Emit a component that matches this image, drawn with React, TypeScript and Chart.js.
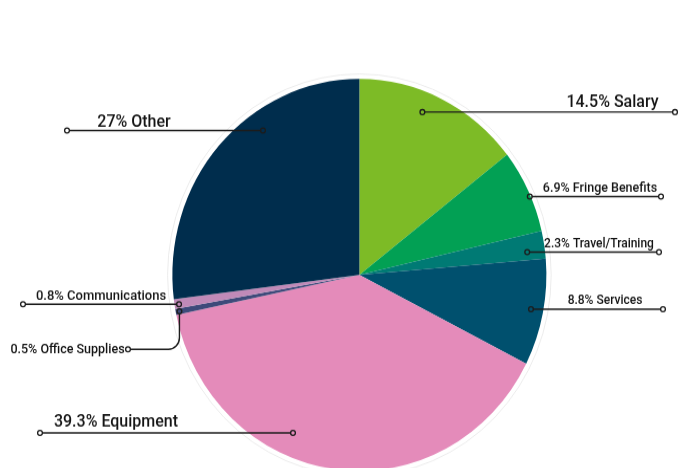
import React, { useEffect, useRef } from 'react';
import { Chart, registerables } from 'chart.js';

Chart.register(...registerables);

// ---- data ----
const categories = [
  'Salary',
  'Fringe Benefits',
  'Travel/Training',
  'Services',
  'Equipment',
  'Office Supplies',
  'Communications',
  'Other',
];
const percentages = [14.5, 6.9, 2.3, 8.8, 39.3, 0.5, 0.8, 27];
const sliceColors = [
  '#7dbb26',
  '#02a054',
  '#007a74',
  '#00506e',
  '#e48bba',
  '#3d4a7a',
  '#c08ab8',
  '#002d4d',
];

// ---- layout (not data) ----
const S = 196 / 187; // vertical stretch of the reference picture
const CW = 687;
const CH = 500;
const FONT = 'Roboto, "Open Sans", sans-serif';

// t: position along the slice's angle, f: fraction of the radius for the anchor
const labelLayout = [
  { t: 0.423, f: 0.897, endX: 675, textX: 612.5, size: 16, gap: 5 },
  { t: 0.57, f: 0.995, endX: 661, textX: 600, size: 12.5, gap: 5 },
  { t: 0.68, f: 0.905, endX: 659, textX: 599, size: 12, gap: 5 },
  { t: 0.49, f: 0.934, endX: 663, textX: 605, size: 12, gap: 5.5 },
  { t: 0.615, f: 0.88, endX: 40, textX: 116, size: 16, gap: 6.5 },
  { t: 0.5, f: 0.98, endX: 128, textX: 125, size: 12.5, gap: 0, elbow: 38 },
  { t: 0.41, f: 0.976, endX: 23, textX: 101, size: 13, gap: 4.3 },
  { t: 0.64, f: 0.9, endX: 67, textX: 134, size: 16, gap: 3.8 },
];

const DOT_R = 2.4;
const LINE_COLOR = '#1c1c1c';

const ringPlugin = {
  id: 'outerRing',
  beforeDatasetsDraw(chart: any) {
    const meta = chart.getDatasetMeta(0);
    const arc = meta.data[0] as any;
    if (!arc) return;
    const ctx = chart.ctx as CanvasRenderingContext2D;
    ctx.save();
    ctx.beginPath();
    ctx.arc(arc.x, arc.y, arc.outerRadius + 4.8, 0, Math.PI * 2);
    ctx.strokeStyle = '#ececec';
    ctx.lineWidth = 1;
    ctx.stroke();
    ctx.restore();
  },
};

const labelPlugin = {
  id: 'leaderLabels',
  afterDatasetsDraw(chart: any) {
    const meta = chart.getDatasetMeta(0);
    const ctx = chart.ctx as CanvasRenderingContext2D;
    ctx.save();
    meta.data.forEach((el: any, i: number) => {
      const lay = labelLayout[i];
      if (!lay) return;
      const a = el.startAngle + lay.t * (el.endAngle - el.startAngle);
      const r = lay.f * el.outerRadius;
      const ax = el.x + Math.cos(a) * r;
      const ay = el.y + Math.sin(a) * r;
      const text = `${percentages[i]}% ${categories[i]}`;
      const dir = lay.endX > ax ? 1 : -1;

      ctx.strokeStyle = LINE_COLOR;
      ctx.lineWidth = 1.4;
      ctx.lineCap = 'round';

      let ly = ay;
      ctx.beginPath();
      if (lay.elbow) {
        ly = ay + lay.elbow / S;
        const rad = 11;
        ctx.moveTo(ax, ay + DOT_R);
        ctx.lineTo(ax, ly - rad);
        ctx.arcTo(ax, ly, ax - rad, ly, rad);
        ctx.lineTo(lay.endX + DOT_R, ly);
      } else {
        ctx.moveTo(ax + dir * DOT_R, ay);
        ctx.lineTo(lay.endX - dir * DOT_R, ay);
      }
      ctx.stroke();

      // hollow dots
      ctx.lineWidth = 1.3;
      ctx.beginPath();
      ctx.arc(ax, ay, DOT_R, 0, Math.PI * 2);
      ctx.stroke();
      ctx.beginPath();
      ctx.arc(lay.endX, ly, DOT_R, 0, Math.PI * 2);
      ctx.fillStyle = '#ffffff';
      ctx.fill();
      ctx.stroke();

      // text
      ctx.fillStyle = '#141414';
      ctx.font = `500 ${lay.size}px ${FONT}`;
      if (lay.elbow) {
        ctx.textAlign = 'right';
        ctx.textBaseline = 'middle';
        ctx.fillText(text, lay.endX - DOT_R - 1, ly + 0.5);
      } else {
        ctx.textAlign = 'center';
        ctx.textBaseline = 'alphabetic';
        ctx.fillText(text, lay.textX, ay - lay.gap / S);
      }
    });
    ctx.restore();
  },
};

export default function App() {
  const canvasRef = useRef<HTMLCanvasElement | null>(null);

  useEffect(() => {
    document.body.style.margin = '0';
    const canvas = canvasRef.current;
    if (!canvas) return;
    const cx = 359.4;
    const cy = 275 / S;
    const R = 187;
    const chart = new Chart(canvas, {
      type: 'pie',
      data: {
        labels: categories,
        datasets: [
          {
            data: percentages,
            backgroundColor: sliceColors,
            borderWidth: 0,
            hoverOffset: 0,
          },
        ],
      },
      options: {
        animation: false,
        responsive: false,
        maintainAspectRatio: false,
        devicePixelRatio: 1,
        layout: {
          padding: {
            left: cx - R,
            right: CW - (cx + R),
            top: cy - R,
            bottom: CH - (cy + R),
          },
        },
        plugins: {
          legend: { display: false },
          tooltip: { enabled: false },
        },
      },
      plugins: [ringPlugin, labelPlugin],
    });
    return () => chart.destroy();
  }, []);

  return (
    <div
      style={{
        position: 'absolute',
        left: 0,
        top: 0,
        width: 687,
        height: 468,
        overflow: 'hidden',
        background: '#ffffff',
      }}
    >
      <canvas
        ref={canvasRef}
        width={CW}
        height={CH}
        style={{
          width: CW,
          height: CH,
          display: 'block',
          transform: `scaleY(${S})`,
          transformOrigin: '0 0',
        }}
      />
    </div>
  );
}
